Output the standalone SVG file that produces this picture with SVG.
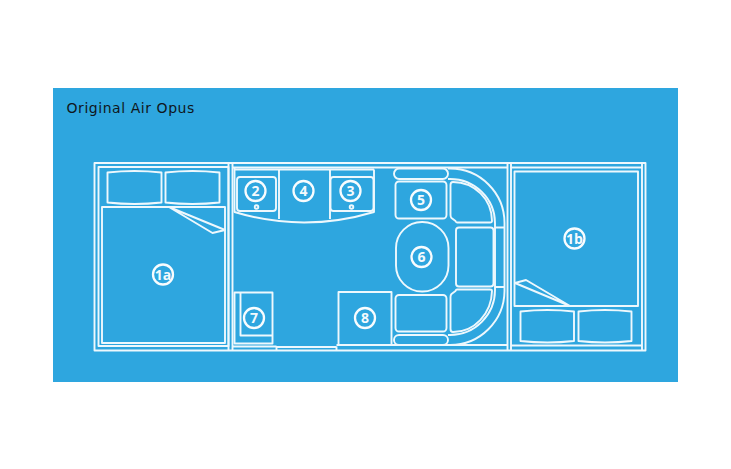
<svg xmlns="http://www.w3.org/2000/svg" width="731" height="469" viewBox="0 0 731 469">
<style>
.l{fill:none;stroke:#eef8fd;stroke-width:1.9;stroke-linejoin:round}
.c{fill:none;stroke:#f8fcfe;stroke-width:2.3}
.n{font-family:"Open Sans","DejaVu Sans",sans-serif;font-weight:700;font-size:14px;fill:#f4fafd;text-anchor:middle}
.t{font-family:"DejaVu Sans",sans-serif;font-size:14px;fill:#10171c;letter-spacing:.55px}
</style>
<rect width="731" height="469" fill="#fff"/>
<rect x="53" y="88" width="625" height="294" fill="#2ea6df"/>
<text class="t" x="66.5" y="113">Original Air Opus</text>
<g id="shell">
<path class="l" d="M94.500 163H645.500V350.500H94.500Z"/>
<path class="l" d="M98.500 167H228.500V346H98.500Z"/>
<path class="l" d="M228.500 163V350.500M232.500 163V350.500"/>
<path class="l" d="M232.500 167.500H507.500M232.500 346.500H276.500M276.500 346.500V350.500M276.500 347H336.500M336.500 346.500V350.500M336.500 345H507.500"/>
<path class="l" d="M507.500 163V350.500M511 163V350.500"/>
<path class="l" d="M511 167.500H642V345.500H511M642 163V350.500"/>
</g>
<g id="bed-1a">
<rect class="l" x="102" y="207" width="123" height="136"/>
<path class="l" d="M169 207L225 230L212.500 233L169 207"/>
<path class="l" d="M107.500 172.500Q134.500 169.500 161.500 172.500V202.500Q134.500 205.500 107.500 202.500Z"/>
<path class="l" d="M165.500 172.500Q192.500 169.500 219.500 172.500V202.500Q192.500 205.500 165.500 202.500Z"/>
<circle class="c" cx="163" cy="274.500" r="10"/><text class="n" x="163" y="279.500">1a</text>
</g>
<g id="bed-1b">
<rect class="l" x="514.500" y="171.500" width="123.500" height="134.500"/>
<path class="l" d="M570 306L515 283L526 280L570 306"/>
<path class="l" d="M520.500 311.500Q547.500 308.500 574 311.500V341Q547.500 344 520.500 341Z"/>
<path class="l" d="M578.500 311.500Q605 308.500 631.500 311.500V341Q605 344 578.500 341Z"/>
<circle class="c" cx="574.500" cy="238.500" r="10"/><text class="n" x="574.500" y="243.500">1b</text>
</g>
<g id="kitchen">
<path class="l" d="M234.500 169.500H374M234.500 167.500V212Q304 233 374 212V169.500M279 169.500V219M330 169.500V219"/>
</g>
<g id="n2">
<rect class="l" x="237" y="177" width="39" height="34" rx="3"/>
<circle class="l" cx="256.500" cy="207" r="1.800"/>
<circle class="c" cx="255.500" cy="191" r="10"/><text class="n" x="255.500" y="196">2</text>
</g>
<g id="n3">
<rect class="l" x="330.500" y="177" width="43" height="34" rx="3"/>
<circle class="l" cx="351.500" cy="207" r="1.800"/>
<circle class="c" cx="350.500" cy="191" r="10"/><text class="n" x="350.500" y="196">3</text>
</g>
<g id="n4">
<circle class="c" cx="303.500" cy="191" r="10"/><text class="n" x="303.500" y="196">4</text>
</g>
<g id="n5">
<rect class="l" x="395.500" y="181.500" width="51" height="37" rx="3.500"/>
<circle class="c" cx="421" cy="200" r="10"/><text class="n" x="421" y="205">5</text>
</g>
<g id="n6">
<rect class="l" x="396" y="222" width="52.500" height="69.500" rx="26"/>
<circle class="c" cx="421.500" cy="257" r="10"/><text class="n" x="421.500" y="262">6</text>
</g>
<g id="n7">
<rect class="l" x="234.500" y="292.500" width="38" height="51"/>
<path class="l" d="M240.500 292.500V335.500H272.500"/>
<circle class="c" cx="254" cy="318" r="10"/><text class="n" x="254" y="323">7</text>
</g>
<g id="n8">
<rect class="l" x="338.500" y="292" width="53" height="53"/>
<circle class="c" cx="365" cy="318" r="10"/><text class="n" x="365" y="323">8</text>
</g>
<g id="lounge">
<rect class="l" x="394" y="168.500" width="54" height="10.500" rx="5.200"/>
<rect class="l" x="394" y="335" width="54" height="10" rx="5"/>
<path class="l" d="M448 168.500H450A54.500 54.500 0 0 1 504.500 223V291A54.500 54.500 0 0 1 450 345H448"/>
<path class="l" d="M448 179H450A45 44 0 0 1 495 223V290A45 45 0 0 1 450 335H448"/>
<path class="l" d="M450.500 185Q450.500 182 453 182A39 39 0 0 1 492 221Q492 222.500 490 222.500H457Q456 222.500 455.500 221L451.500 218Q450.500 217 450.500 215Z"/>
<path class="l" d="M450.500 329Q450.500 332 453 332A39 42 0 0 0 492 291Q492 289.500 490 289.500H457Q456 289.500 455.500 291L451.500 294Q450.500 295 450.500 297Z"/>
<rect class="l" x="456" y="227.500" width="37.500" height="59" rx="3"/>
<path class="l" d="M495 227.500H504.500M495 287H504.500"/>
<rect class="l" x="395.500" y="295" width="51" height="36.500" rx="3.500"/>
</g>
</svg>
